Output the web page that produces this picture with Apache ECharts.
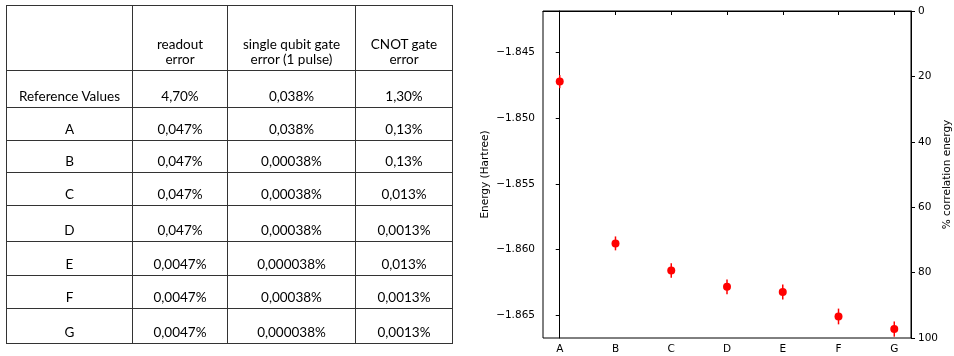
<!DOCTYPE html>
<html>
<head>
<meta charset="utf-8">
<script src="https://cdn.jsdelivr.net/npm/echarts@6/dist/echarts.min.js"></script>
<style>
  html, body { margin: 0; padding: 0; background: #fff; }
  #chart { position: absolute; left: 0; top: 0; width: 954px; height: 356px; }
  #table {
    position: absolute; left: 6px; top: 5px;
    border-collapse: collapse;
    font-family: Lato, sans-serif; font-size: 13.5px; color: #000;
    table-layout: fixed;
  }
  #table td {
    border: 1px solid #333;
    text-align: center; vertical-align: bottom;
    padding: 0 2px 3px 2px; line-height: 15px;
  }
</style>
</head>
<body>
<div id="chart"></div>
<table id="table"></table>
<script>
// table (left half of the figure)
const columnHeaders = ['', 'readout<br>error', 'single qubit gate<br>error (1 pulse)', 'CNOT gate<br>error']
const rowNames = ['Reference Values', 'A', 'B', 'C', 'D', 'E', 'F', 'G']
const readoutError = ['4,70%', '0,047%', '0,047%', '0,047%', '0,047%', '0,0047%', '0,0047%', '0,0047%']
const singleQubitError = ['0,038%', '0,038%', '0,00038%', '0,00038%', '0,00038%', '0,000038%', '0,00038%', '0,000038%']
const cnotError = ['1,30%', '0,13%', '0,13%', '0,013%', '0,0013%', '0,013%', '0,0013%', '0,0013%']

// chart (right half)
const categories = ['A', 'B', 'C', 'D', 'E', 'F', 'G']
const energy = [-1.84721, -1.85954, -1.86160, -1.86285, -1.86325, -1.86511, -1.86607]
const energyErr = [0.0005, 0.00053, 0.00055, 0.00056, 0.00057, 0.0006, 0.00058]
const energyTicks = [-1.865, -1.86, -1.855, -1.85, -1.845]
const percentTicks = [0, 20, 40, 60, 80, 100]

const colWidths = [126, 95, 128, 97]
const rowHeights = [65, 37, 33, 32, 33, 36, 34, 33, 35]

const table = document.getElementById('table')
let html = '<tr style="height:' + rowHeights[0] + 'px">'
columnHeaders.forEach((h, i) => {
  html += '<td style="width:' + (colWidths[i] - 5) + 'px">' + h + '</td>'
})
html += '</tr>'
rowNames.forEach((name, r) => {
  html += '<tr style="height:' + rowHeights[r + 1] + 'px">'
  html += '<td>' + name + '</td><td>' + readoutError[r] + '</td><td>' +
    singleQubitError[r] + '</td><td>' + cnotError[r] + '</td></tr>'
})
table.innerHTML = html

const font = 'DejaVu Sans'
const fontSize = 10.5
const xs = categories.map((c, i) => i)

const myChart = echarts.init(document.getElementById('chart'))
myChart.setOption({
  animation: false,
  grid: {
    left: 543, top: 11, right: 43, bottom: 18,
    show: true, borderColor: '#000', borderWidth: 1,
  },
  xAxis: {
    type: 'value',
    min: -0.3,
    max: 6.3,
    axisLine: { show: true, lineStyle: { color: '#000', width: 1 } },
    axisTick: { show: true, inside: false, length: 4, customValues: xs, lineStyle: { color: '#000' } },
    axisLabel: {
      customValues: xs,
      formatter: (v) => categories[Math.round(v)],
      color: '#000', fontFamily: font, fontSize, margin: 6,
    },
    splitLine: { show: false },
  },
  yAxis: [
    {
      type: 'value',
      min: -1.86675,
      max: -1.84183,
      name: 'Energy (Hartree)',
      nameLocation: 'middle',
      nameRotate: 90,
      nameGap: 52,
      nameTextStyle: { color: '#000', fontFamily: font, fontSize },
      axisLine: { show: true, lineStyle: { color: '#000', width: 1 } },
      axisTick: { show: true, length: 4, customValues: energyTicks, lineStyle: { color: '#000' } },
      axisLabel: {
        customValues: energyTicks,
        formatter: (v) => '\u2212' + Math.abs(v).toFixed(3),
        color: '#000', fontFamily: font, fontSize, margin: 8,
      },
      splitLine: { show: false },
    },
    {
      type: 'value',
      position: 'right',
      inverse: true,
      min: 0,
      max: 100,
      interval: 20,
      name: '% correlation energy',
      nameLocation: 'middle',
      nameRotate: 90,
      nameGap: 31,
      nameTextStyle: { color: '#000', fontFamily: font, fontSize },
      axisLine: { show: true, lineStyle: { color: '#000', width: 1 } },
      axisTick: { show: true, length: 4, lineStyle: { color: '#000' } },
      axisLabel: {
        formatter: (v) => percentTicks.includes(v) ? String(v) : '',
        color: '#000', fontFamily: font, fontSize, margin: 7,
      },
      splitLine: { show: false },
    },
  ],
  series: [
    {
      type: 'custom',
      yAxisIndex: 0,
      data: energy.map((e, i) => [i, e, energyErr[i]]),
      renderItem: (params, api) => {
        const lo = api.coord([api.value(0), api.value(1) - api.value(2)])
        const hi = api.coord([api.value(0), api.value(1) + api.value(2)])
        return {
          type: 'line',
          shape: { x1: lo[0], y1: lo[1], x2: hi[0], y2: hi[1] },
          style: { stroke: '#ff0000', lineWidth: 1.5 },
        }
      },
      z: 2,
    },
    {
      type: 'scatter',
      yAxisIndex: 0,
      symbol: 'circle',
      symbolSize: 8,
      itemStyle: { color: '#ff0000', opacity: 1 },
      data: energy.map((e, i) => [i, e]),
      z: 3,
    },
  ],
})
</script>
</body>
</html>
